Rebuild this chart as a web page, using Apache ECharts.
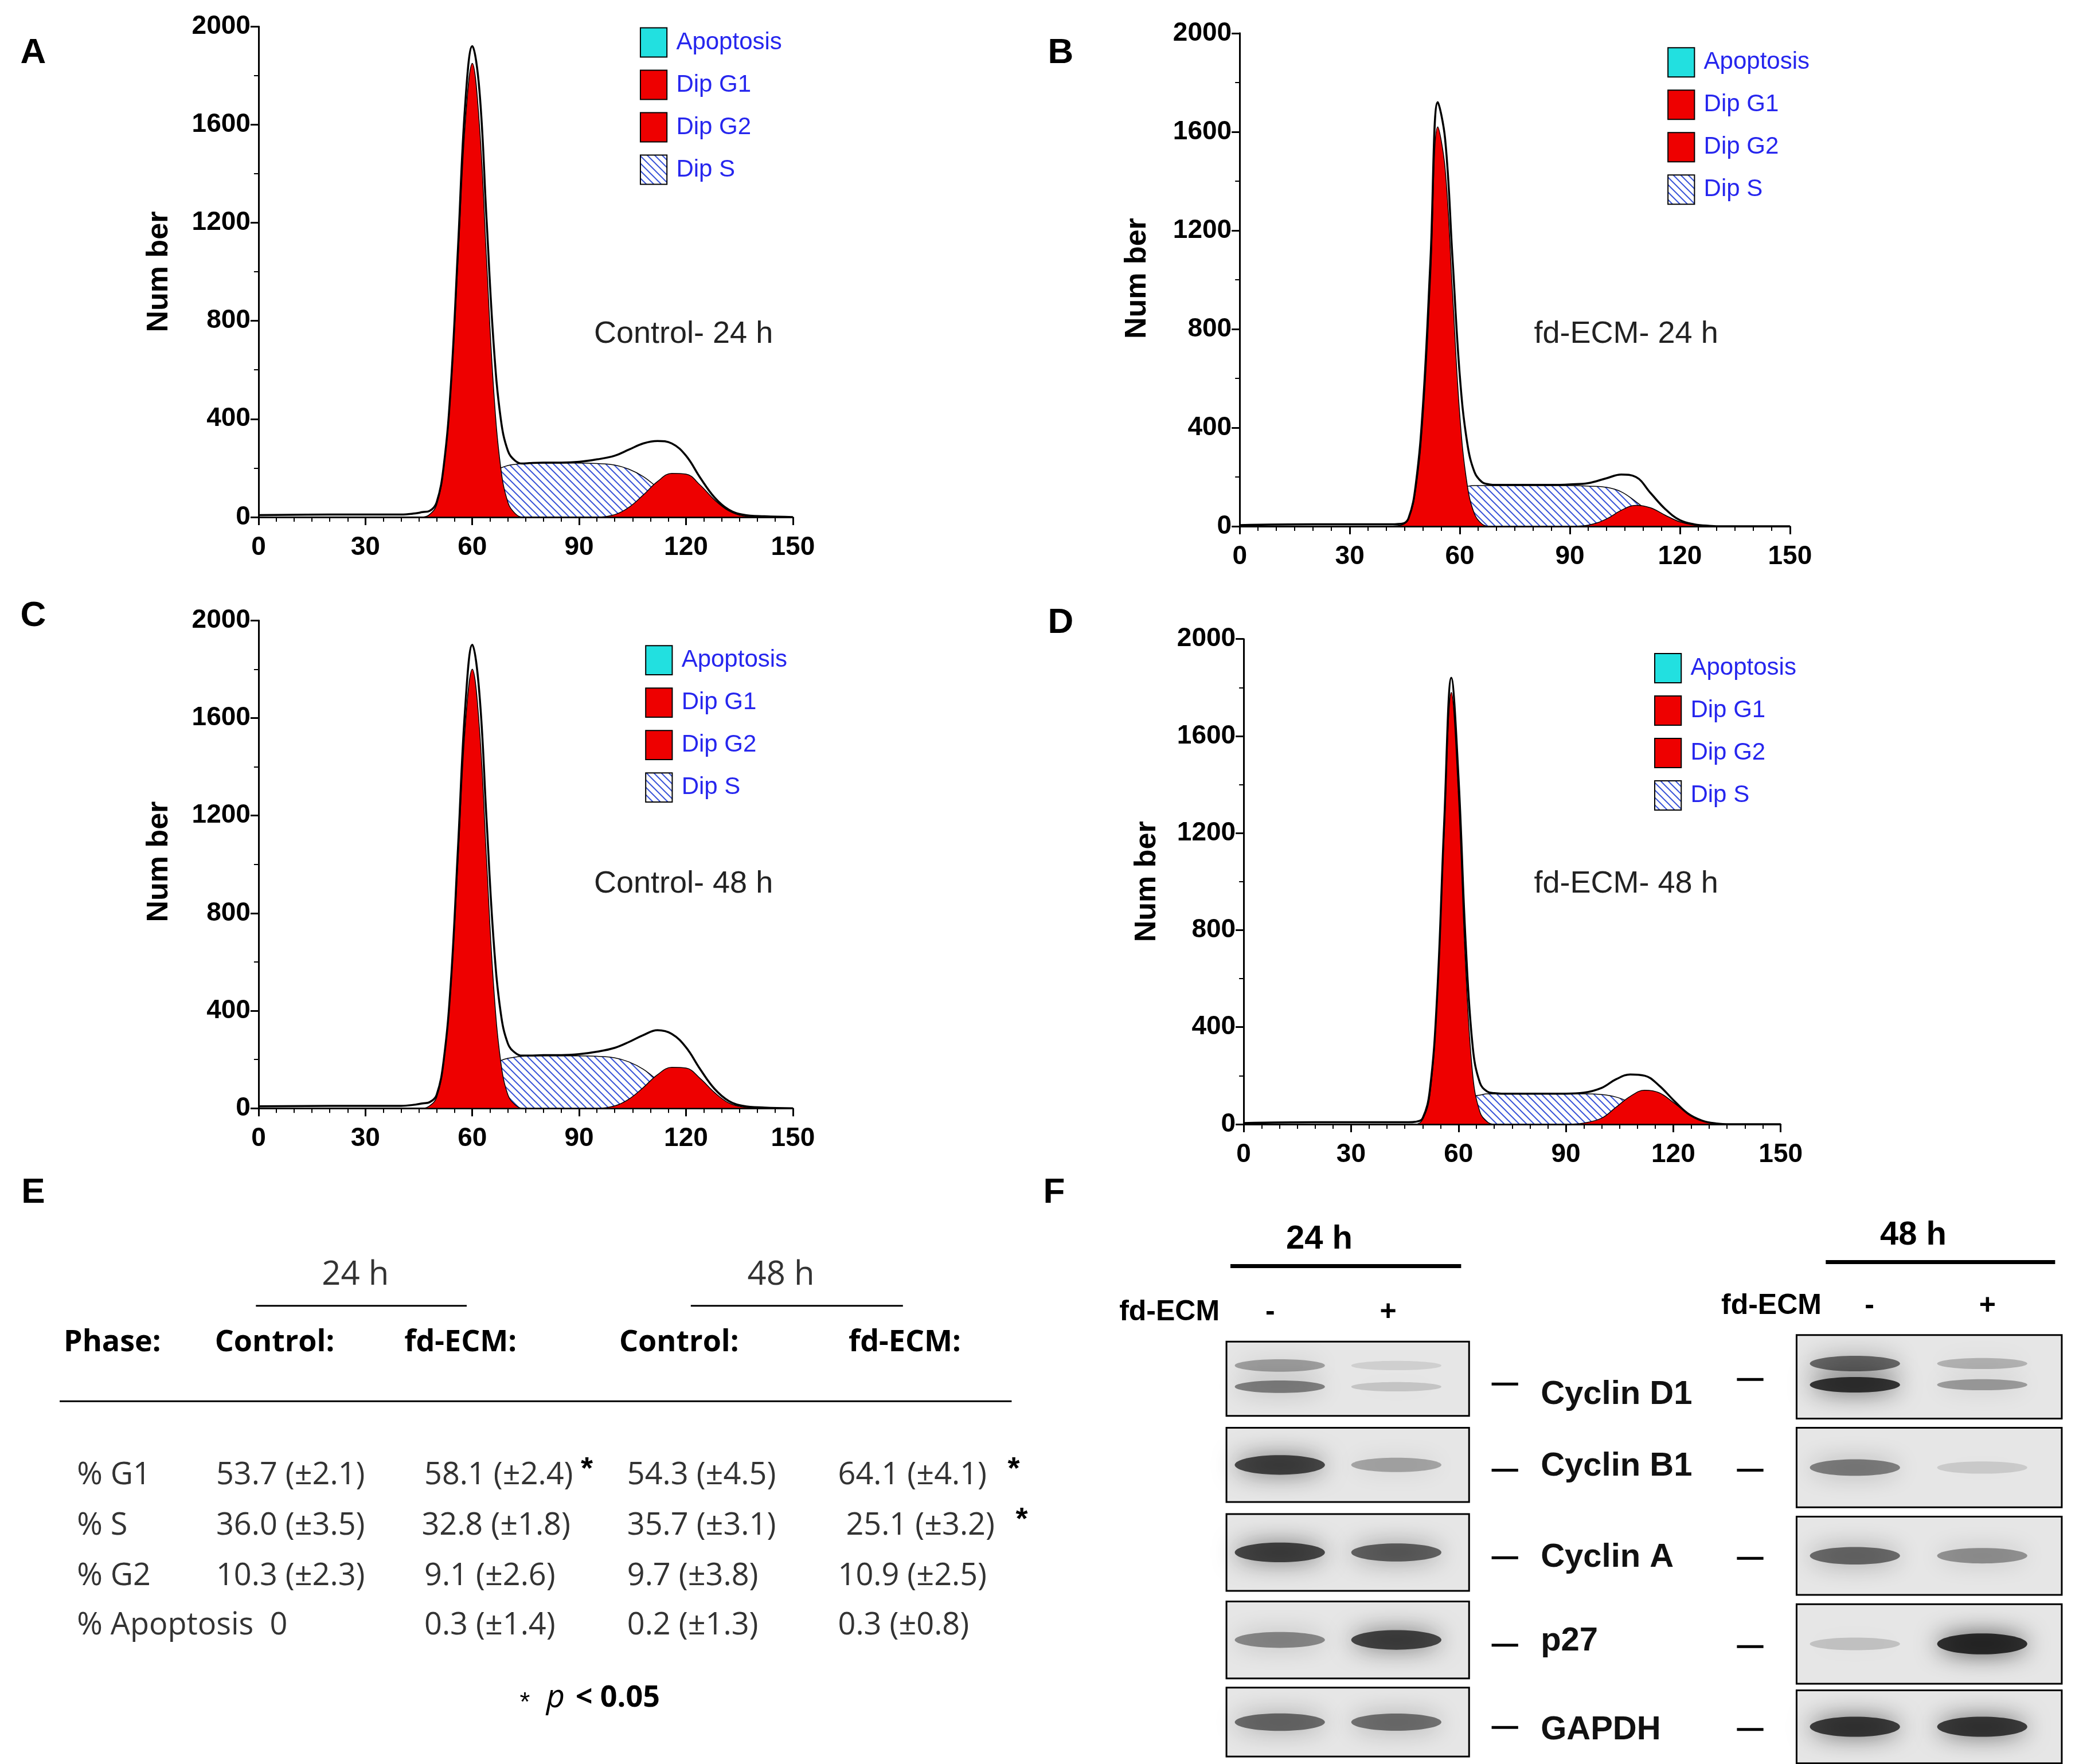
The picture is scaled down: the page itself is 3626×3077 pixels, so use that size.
<!DOCTYPE html>
<html><head><meta charset="utf-8">
<script src="https://cdn.jsdelivr.net/npm/echarts@6/dist/echarts.min.js"></script>
<style>html,body{margin:0;background:#fff}#c{width:3626px;height:3077px}</style>
</head><body><div id="c"></div>
<script>
// DNA content channels shared by all four histograms
var xs = [0,20,35,40,44,46,48,50,52,54,56,58,60,62,64,66,68,70,72,74,76,80,85,90,95,100,104,108,112,116,120,124,128,132,136,142,150];

var aG1 = [0,0,0,0,0,0,10,50,200,520,1050,1600,1850,1600,1050,520,200,60,15,0,0,0,0,0,0,0,0,0,0,0,0,0,0,0,0,0,0];
var aS = [0,0,0,0,0,0,0,0,0,20,50,80,110,140,165,185,200,210,215,218,220,220,220,220,218,212,195,165,120,75,35,10,0,0,0,0,0];
var aG2 = [0,0,0,0,0,0,0,0,0,0,0,0,0,0,0,0,0,0,0,0,0,0,0,0,0,10,40,90,145,178,175,130,70,25,5,0,0];
var aTot = [8,10,10,10,15,20,25,60,210,540,1100,1680,1920,1740,1215,705,400,270,230,218,220,222,222,225,235,250,275,300,310,300,250,160,80,30,10,3,0];

var bG1 = [0,0,0,0,5,30,150,450,1000,1620,1450,950,450,170,50,10,0,0,0,0,0,0,0,0,0,0,0,0,0,0,0,0,0,0,0,0,0];
var bS = [0,0,0,0,0,0,20,45,70,95,120,140,155,162,165,165,165,165,165,165,165,165,165,165,163,158,140,100,55,20,5,0,0,0,0,0,0];
var bG2 = [0,0,0,0,0,0,0,0,0,0,0,0,0,0,0,0,0,0,0,0,0,0,0,0,5,30,65,85,75,45,18,5,0,0,0,0,0];
var bTot = [5,8,8,8,10,32,170,500,1080,1720,1570,1090,610,340,220,180,170,168,168,168,168,168,168,170,175,195,210,200,135,70,25,8,2,0,0,0,0];

var cG1 = [0,0,0,0,0,0,10,45,190,500,1020,1560,1800,1560,1020,500,190,55,15,0,0,0,0,0,0,0,0,0,0,0,0,0,0,0,0,0,0];
var cS = [0,0,0,0,0,0,0,0,0,20,50,80,110,140,165,182,196,205,210,213,215,215,215,215,213,207,190,160,115,70,32,10,0,0,0,0,0];
var cG2 = [0,0,0,0,0,0,0,0,0,0,0,0,0,0,0,0,0,0,0,0,0,0,0,0,0,10,38,85,138,168,165,122,65,22,5,0,0];
var cTot = [8,10,10,10,15,20,25,55,200,520,1070,1640,1900,1700,1185,685,390,265,228,216,216,218,218,222,232,248,272,300,320,305,250,160,80,30,10,3,0];

var dG1 = [0,0,0,0,0,0,0,20,120,500,1200,1780,1350,650,200,50,10,0,0,0,0,0,0,0,0,0,0,0,0,0,0,0,0,0,0,0,0];
var dS = [0,0,0,0,0,0,0,0,10,20,40,60,80,100,115,120,125,125,125,125,125,125,125,125,125,122,112,90,60,30,10,0,0,0,0,0,0];
var dG2 = [0,0,0,0,0,0,0,0,0,0,0,0,0,0,0,0,0,0,0,0,0,0,0,0,5,25,70,115,140,130,90,45,15,3,0,0,0];
var dTot = [5,8,8,8,8,8,10,25,140,520,1240,1840,1430,750,315,170,135,128,126,126,126,126,126,126,130,150,185,205,200,160,100,45,15,3,0,0,0];

var legendNames = ['Apoptosis', 'Dip G1', 'Dip G2', 'Dip S'];
var panelTitles = ['Control- 24 h', 'fd-ECM- 24 h', 'Control- 48 h', 'fd-ECM- 48 h'];

// table E
var tableRows = [
  ['% G1', '53.7 (\u00b12.1)', '58.1 (\u00b12.4)', '54.3 (\u00b14.5)', '64.1 (\u00b14.1)'],
  ['% S', '36.0 (\u00b13.5)', '32.8 (\u00b11.8)', '35.7 (\u00b13.1)', '25.1 (\u00b13.2)'],
  ['% G2', '10.3 (\u00b12.3)', '9.1 (\u00b12.6)', '9.7 (\u00b13.8)', '10.9 (\u00b12.5)'],
  ['% Apoptosis  0', '', '0.3 (\u00b11.4)', '0.2 (\u00b11.3)', '0.3 (\u00b10.8)']
];
var sigStars = [[true, false, true], [false, false, true], [false, false, false], [false, false, false]];

// western blot F: band intensity [lane-, lane+]
var blotNames = ['Cyclin D1', 'Cyclin B1', 'Cyclin A', 'p27', 'GAPDH'];
var blot24 = [[0.55, 0.18], [0.85, 0.35], [0.85, 0.7], [0.5, 0.85], [0.65, 0.62]];
var blot48 = [[0.95, 0.4], [0.55, 0.15], [0.65, 0.45], [0.2, 0.98], [0.9, 0.9]];

var K = 3626 / 1568;
function s(v) { return v * K; }

var hatch = document.createElement('canvas');
hatch.width = 13; hatch.height = 13;
var hc = hatch.getContext('2d');
hc.fillStyle = '#fff'; hc.fillRect(0, 0, 13, 13);
hc.strokeStyle = '#3a55d8'; hc.lineWidth = 2;
hc.beginPath(); hc.moveTo(-2, -2); hc.lineTo(15, 15); hc.moveTo(-2, 11); hc.lineTo(2, 15); hc.moveTo(11, -2); hc.lineTo(15, 2); hc.stroke();

function pairs(ys) { return xs.map(function (x, i) { return [x, ys[i]]; }); }

var panels = [
  {g1: aG1, sp: aS, g2: aG2, tot: aTot, left: 195, right: 598, top: 20, bot: 390, leg: [483, 21], txt: [448, 252], yname: [120, 205], letter: ['A', 25, 40]},
  {g1: bG1, sp: bS, g2: bG2, tot: bTot, left: 935, right: 1350, top: 25, bot: 397, leg: [1258, 36], txt: [1157, 252], yname: [858, 210], letter: ['B', 800, 40]},
  {g1: cG1, sp: cS, g2: cG2, tot: cTot, left: 195, right: 598, top: 468, bot: 836, leg: [487, 487], txt: [448, 667], yname: [120, 650], letter: ['C', 25, 465]},
  {g1: dG1, sp: dS, g2: dG2, tot: dTot, left: 938, right: 1343, top: 482, bot: 848, leg: [1248, 493], txt: [1157, 667], yname: [865, 665], letter: ['D', 800, 470]}
];

var grids = [], xAxes = [], yAxes = [], series = [], g = [];
var lab = {color: '#000', fontSize: 46, fontWeight: 'bold', fontFamily: 'Liberation Sans'};

function text(t, x, y, opt) {
  var st = {text: t, x: s(x), y: s(y), fill: '#000', fontSize: 50, fontFamily: 'Liberation Sans', textVerticalAlign: 'middle'};
  for (var k in opt) st[k] = opt[k];
  g.push({type: 'text', style: st, z: 10});
}
function line(x1, y1, x2, y2, w) {
  g.push({type: 'line', shape: {x1: s(x1), y1: s(y1), x2: s(x2), y2: s(y2)}, style: {stroke: '#000', lineWidth: w || 3}, z: 10});
}

panels.forEach(function (p, i) {
  grids.push({left: s(p.left), top: s(p.top), width: s(p.right - p.left), height: s(p.bot - p.top)});
  xAxes.push({type: 'value', gridIndex: i, min: 0, max: 150, interval: 30,
    axisLine: {lineStyle: {color: '#000', width: 3}}, axisTick: {length: 14, lineStyle: {width: 3}},
    minorTick: {show: true, splitNumber: 6, length: 8, lineStyle: {color: '#000', width: 2}},
    splitLine: {show: false}, axisLabel: Object.assign({margin: 30}, lab)});
  yAxes.push({type: 'value', gridIndex: i, min: 0, max: 2000, interval: 400,
    axisLine: {show: true, lineStyle: {color: '#000', width: 3}}, axisTick: {show: true, length: 14, lineStyle: {width: 3}},
    minorTick: {show: true, splitNumber: 2, length: 8, lineStyle: {color: '#000', width: 2}},
    splitLine: {show: false}, axisLabel: Object.assign({margin: 14, formatter: function (v) { return String(v); }}, lab)});
  var base = {type: 'line', xAxisIndex: i, yAxisIndex: i, smooth: 0.4, symbol: 'none', silent: true};
  series.push(Object.assign({}, base, {data: pairs(p.sp), lineStyle: {color: '#000', width: 1.5}, areaStyle: {color: {image: hatch, repeat: 'repeat'}, opacity: 1}, z: 2}));
  series.push(Object.assign({}, base, {data: pairs(p.g1), lineStyle: {color: '#000', width: 1.5}, areaStyle: {color: '#ee0000', opacity: 1}, z: 3}));
  series.push(Object.assign({}, base, {data: pairs(p.g2), lineStyle: {color: '#000', width: 1.5}, areaStyle: {color: '#ee0000', opacity: 1}, z: 3}));
  series.push(Object.assign({}, base, {data: pairs(p.tot), lineStyle: {color: '#000', width: 3.5}, z: 4}));

  // legend
  legendNames.forEach(function (n, j) {
    var ly = p.leg[1] + j * 32;
    var fill = j === 0 ? '#22e0e0' : (j === 3 ? {image: hatch, repeat: 'repeat'} : '#ee0000');
    g.push({type: 'rect', shape: {x: s(p.leg[0]), y: s(ly), width: s(20), height: s(22)}, style: {fill: fill, stroke: '#000', lineWidth: 2}, z: 10});
    text(n, p.leg[0] + 27, ly + 11, {fill: '#2626ee', fontSize: 42, fontFamily: 'Liberation Sans'});
  });
  text(panelTitles[i], p.txt[0], p.txt[1], {fontSize: 54, fill: '#222'});
  g.push({type: 'text', x: s(p.yname[0]), y: s(p.yname[1]), rotation: Math.PI / 2,
    style: {text: 'Num ber', fontSize: 52, fontWeight: 'bold', fontFamily: 'Liberation Sans', fill: '#000', textAlign: 'center', textVerticalAlign: 'middle'}, z: 10});
  text(p.letter[0], p.letter[1], p.letter[2], {fontSize: 62, fontWeight: 'bold', textAlign: 'center'});
});
text('E', 25, 900, {fontSize: 62, fontWeight: 'bold', textAlign: 'center'});
text('F', 795, 900, {fontSize: 62, fontWeight: 'bold', textAlign: 'center'});

// table E
var tf = 'Open Sans';
text('24 h', 268, 962, {fontSize: 58, textAlign: 'center', fontFamily: tf, fill: '#333'});
line(193, 985, 352, 985, 3);
text('48 h', 589, 962, {fontSize: 58, textAlign: 'center', fontFamily: tf, fill: '#333'});
line(521, 985, 681, 985, 3);
[['Phase:', 48], ['Control:', 162], ['fd-ECM:', 305], ['Control:', 467], ['fd-ECM:', 640]].forEach(function (h) {
  text(h[0], h[1], 1013, {fontSize: 52, fontWeight: 'bold', fontFamily: tf});
});
line(45, 1057, 763, 1057, 3);
var colX = [58, 163, 320, 473, 632];
var rowY = [1113, 1151, 1189, 1226];
tableRows.forEach(function (r, ri) {
  r.forEach(function (c, ci) {
    var x = colX[ci];
    if (ri === 1 && ci === 4) x = 638;
    if (ri === 1 && ci === 2) x = 318;
    text(c, x, rowY[ri], {fontSize: 54, fontFamily: tf, fill: '#333'});
  });
  var starX = [438, 0, 760];
  sigStars[ri].forEach(function (on, k) {
    if (on) text('*', ri === 1 ? 766 : starX[k], rowY[ri] - 4, {fontSize: 54, fontWeight: 'bold'});
  });
});
text('*', 392, 1285, {fontSize: 46});
text('p', 412, 1281, {fontSize: 56, fontStyle: 'italic', fontFamily: tf});
text('< 0.05', 434, 1281, {fontSize: 52, fontWeight: 'bold', fontFamily: tf});

// blots F
function blotPanel(hdr, hx, hy, l1, l2, fdx, fdy, minusX, plusX, bx1, bx2, boxes, vals, dashX, labels) {
  text(hdr, hx, hy, {fontSize: 58, fontWeight: 'bold', textAlign: 'center'});
  line(l1, hy + 20, l2, hy + 20, 7);
  text('fd-ECM', fdx, fdy, {fontSize: 50, fontWeight: 'bold', textAlign: 'center'});
  text('-', minusX, fdy, {fontSize: 50, fontWeight: 'bold', textAlign: 'center'});
  text('+', plusX, fdy, {fontSize: 50, fontWeight: 'bold', textAlign: 'center'});
  boxes.forEach(function (b, i) {
    g.push({type: 'rect', shape: {x: s(bx1), y: s(b[0]), width: s(bx2 - bx1), height: s(b[1] - b[0])},
      style: {fill: '#e6e6e6', stroke: '#000', lineWidth: 3}, z: 5});
    var cy = (b[0] + b[1]) / 2;
    var lanes = [bx1 + (bx2 - bx1) * 0.22, bx1 + (bx2 - bx1) * 0.7];
    vals[i].forEach(function (v, k) {
      var ys = i === 0 ? [cy - 10, cy + 6] : [cy];
      ys.forEach(function (yy, m) {
        var a = (i === 0 && m === 0 ? v * 0.7 : v) * 0.85;
        g.push({type: 'ellipse', shape: {cx: s(lanes[k]), cy: s(yy), rx: s(34), ry: s(i === 0 ? 3 + 3 * v : 4 + 4 * v)},
          style: {fill: 'rgba(15,15,15,' + a + ')', shadowBlur: 40, shadowColor: 'rgba(15,15,15,' + a + ')'}, z: 6});
      });
    });
    line(dashX, labels ? cy + 4 : cy + 2, dashX + 20, labels ? cy + 4 : cy + 2, 5);
  });
}
blotPanel('24 h', 995, 935, 928, 1102, 882, 990, 958, 1047, 925, 1108,
  [[1012, 1068], [1077, 1133], [1142, 1200], [1208, 1266], [1273, 1325]], blot24, 1125, true);
blotPanel('48 h', 1443, 932, 1377, 1550, 1336, 985, 1410, 1499, 1355, 1555,
  [[1007, 1070], [1077, 1137], [1144, 1203], [1210, 1270], [1275, 1330]], blot48, 1310, false);
var bl = [1052, 1106, 1175, 1238, 1305];
blotNames.forEach(function (n, i) { text(n, 1162, bl[i], {fontSize: 58, fontWeight: 'bold', fontFamily: 'Liberation Sans', fill: '#111'}); });

var chart = echarts.init(document.getElementById('c'), null, {renderer: 'canvas'});
chart.setOption({
  backgroundColor: '#fff', animation: false,
  grid: grids, xAxis: xAxes, yAxis: yAxes, series: series, graphic: g
});
</script></body></html>
